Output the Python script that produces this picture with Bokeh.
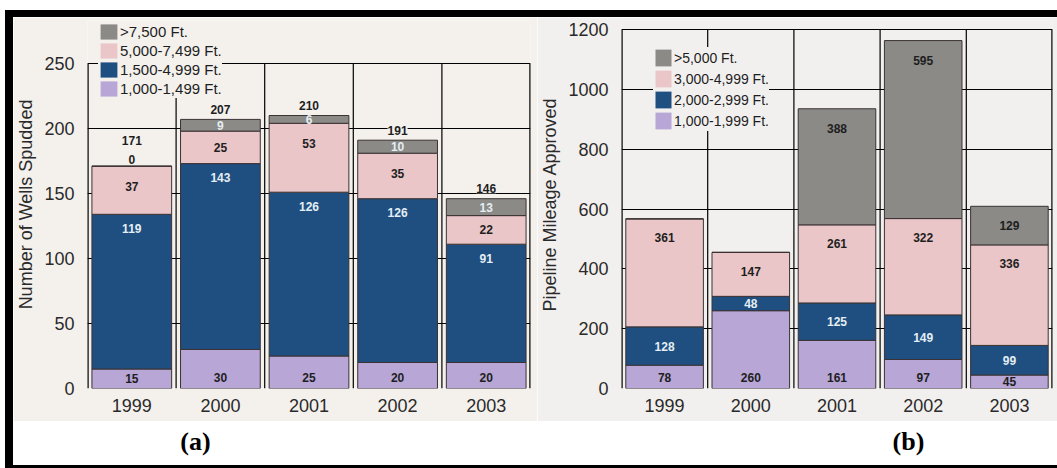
from bokeh.plotting import figure
from bokeh.models import (ColumnDataSource, FactorRange, Range1d, FixedTicker,
                          Legend, LegendItem, LabelSet, Div)
from bokeh.layouts import row, column
from bokeh.embed import file_html
from bokeh.resources import INLINE
from bokeh.core.properties import value

# ---------------- data ----------------
years = ["1999", "2000", "2001", "2002", "2003"]

# (a) Number of wells spudded, by depth
wells_names = ["1,000-1,499 Ft.", "1,500-4,999 Ft.", "5,000-7,499 Ft.", ">7,500 Ft."]
wells_1000_1499 = [15, 30, 25, 20, 20]
wells_1500_4999 = [119, 143, 126, 126, 91]
wells_5000_7499 = [37, 25, 53, 35, 22]
wells_over_7500 = [0, 9, 6, 10, 13]
wells_ticks = [0, 50, 100, 150, 200, 250]

# (b) Pipeline mileage approved, by depth
pipe_names = ["1,000-1,999 Ft.", "2,000-2,999 Ft.", "3,000-4,999 Ft.", ">5,000 Ft."]
pipe_1000_1999 = [78, 260, 161, 97, 45]
pipe_2000_2999 = [128, 48, 125, 149, 99]
pipe_3000_4999 = [361, 147, 261, 322, 336]
pipe_over_5000 = [0, 0, 388, 595, 129]
pipe_ticks = [0, 200, 400, 600, 800, 1000, 1200]

# ---------------- style ----------------
LAV, BLUE, PINK, GRAY = "#b7a6d6", "#1f4f80", "#eac6c8", "#8b8a87"
COLORS = [LAV, BLUE, PINK, GRAY]
OUTLINE = "#3b3234"
DARK = "#1e1e1e"
LIGHT = "#e4eef4"
FONT = "Liberation Sans"


def make_chart(series, names, ticks, ylabel, width, height, mb, top_gap, bg,
               label_cfg, label_colors, legend_loc, legend_font, row_h, sw_w,
               show_totals, show_zero):
    ml, mr, mt, mbot = mb
    ymax = ticks[-1]
    frame_h = height - mt - mbot
    ppu = (frame_h - top_gap) / ymax          # pixels per data unit
    y_end = ymax + top_gap / ppu              # room above for the legend
    p = figure(x_range=FactorRange(factors=years, range_padding=0),
               y_range=Range1d(0, y_end), width=width, height=height,
               title=None, output_backend="svg", toolbar_location=None,
               min_border_left=ml, min_border_right=mr,
               min_border_top=mt, min_border_bottom=mbot,
               background_fill_color=bg, border_fill_color=bg)
    p.outline_line_color = None

    n = len(years)
    # vertical separators between categories and frame edges (up to top tick)
    p.segment(x0=list(range(1, n)), x1=list(range(1, n)), y0=[0] * (n - 1),
              y1=[ymax] * (n - 1), line_color="black", line_width=1.2,
              level="underlay")
    p.segment(x0=[0, n], x1=[0, n], y0=[0, 0], y1=[ymax, ymax],
              line_color="black", line_width=2.4, level="underlay")

    keys = ["s%d" % i for i in range(len(series))]
    data = {"year": years}
    for k, s in zip(keys, series):
        data[k] = s
    src = ColumnDataSource(data)
    p.vbar_stack(keys, x="year", source=src, width=0.9, color=COLORS,
                 line_color=OUTLINE, line_width=1)

    # legend swatches: zero-height proxies without outlines
    proxies = [p.vbar(x=years[:1], top=[0], bottom=[0], width=0.9,
                      fill_color=c, line_color=None) for c in COLORS]
    items = [LegendItem(label=names[i], renderers=[proxies[i]])
             for i in reversed(range(len(names)))]
    legend = Legend(items=items, location=legend_loc, orientation="vertical",
                    spacing=0, padding=0, margin=0, glyph_width=sw_w,
                    glyph_height=row_h, label_height=row_h, label_standoff=1,
                    label_text_font_size=legend_font, label_text_font=FONT,
                    label_text_color=DARK,
                    background_fill_color=bg, background_fill_alpha=1,
                    border_line_color=None)
    p.add_layout(legend)

    # segment labels
    lx, ly, lt, lc = [], [], [], []
    base = [0] * n
    for i, s in enumerate(series):
        anchor, cap = label_cfg[i]
        cap_u = cap / ppu
        for j, v in enumerate(s):
            bottom, top = base[j], base[j] + v
            if v == 0:
                if show_zero:
                    lx.append(years[j]); ly.append(top + 7 / ppu)
                    lt.append(str(v)); lc.append(DARK)
                continue
            if anchor == "bottom":
                y = bottom + min(v / 2, cap_u)
            elif anchor == "top":
                y = top - min(v / 2, cap_u)
            else:
                y = (bottom + top) / 2
            lx.append(years[j]); ly.append(y); lt.append(str(v))
            lc.append(label_colors[i])
        base = [b + v for b, v in zip(base, s)]
    p.text(x="x", y="y", text="t", text_color="c",
           source=ColumnDataSource(dict(x=lx, y=ly, t=lt, c=lc)),
           text_align="center", text_baseline="middle",
           text_font_size="12px", text_font_style="bold", text_font=value(FONT))

    if show_totals:
        ty = []
        for j, tot in enumerate(base):
            extra = 16 / ppu if series[-1][j] == 0 else 0
            ty.append(tot + 10 / ppu + extra)
        tsrc = ColumnDataSource(dict(x=years, y=ty, t=[str(t) for t in base]))
        p.add_layout(LabelSet(x="x", y="y", text="t", source=tsrc,
                              text_align="center", text_baseline="middle",
                              text_font_size="12px", text_font_style="bold",
                              text_font=value(FONT), text_color=DARK,
                              background_fill_color=bg))

    # horizontal grid at ticks; no default vertical grid
    p.ygrid.ticker = FixedTicker(ticks=ticks)
    p.ygrid.grid_line_color = "black"
    p.ygrid.grid_line_width = 1.2
    p.xgrid.grid_line_color = None

    p.yaxis.ticker = FixedTicker(ticks=ticks)
    p.yaxis.axis_label = ylabel
    p.yaxis.axis_label_text_font_style = "normal"
    p.yaxis.axis_label_text_font_size = "18px"
    p.yaxis.axis_label_text_font = FONT
    p.yaxis.axis_label_text_color = "#2a2a2a"
    p.yaxis.axis_label_standoff = 5
    for ax in (p.xaxis, p.yaxis):
        ax.axis_line_color = None
        ax.major_tick_line_color = None
        ax.minor_tick_line_color = None
        ax.major_label_text_font_size = "18px"
        ax.major_label_text_font = FONT
        ax.major_label_text_color = "#2a2a2a"
    p.yaxis.major_label_standoff = 7
    p.xaxis.major_label_standoff = 4
    return p


def caption(txt, width, height, cx, cy):
    c = figure(width=width, height=height, x_range=Range1d(0, width),
               y_range=Range1d(0, height), title=None, output_backend="svg",
               toolbar_location=None, min_border=0, x_axis_type=None,
               y_axis_type=None, outline_line_color=None,
               background_fill_color="white", border_fill_color="white")
    c.text(x=[cx], y=[cy], text=[txt], text_align="center",
           text_baseline="middle", text_font=value("Liberation Serif"),
           text_font_style="bold", text_font_size="26px", text_color="black")
    return c


CH = 404   # chart height (window y 17 -> 421)
CAP = 44   # caption height (421 -> 465)

pa = make_chart([wells_1000_1499, wells_1500_4999, wells_5000_7499, wells_over_7500],
                wells_names, wells_ticks, "Number of Wells Spudded",
                524, CH, (70, 7, 3, 33), 43, "#f4f1ed",
                [("bottom", 11), ("top", 14), ("top", 20), ("center", 0)],
                [DARK, LIGHT, DARK, LIGHT], (11, 290), "15px", 19, 21, True, True)

pb = make_chart([pipe_1000_1999, pipe_2000_2999, pipe_3000_4999, pipe_over_5000],
                pipe_names, pipe_ticks, "Pipeline Mileage Approved",
                520, CH, (81, 5, 3, 33), 9, "#f2f0ee",
                [("bottom", 11), ("center", 0), ("top", 19), ("top", 20)],
                [DARK, LIGHT, DARK, DARK], (32, 257), "14px", 21, 20, False, False)

ca = caption("(a)", 524, CAP, 182, 24)
cb = caption("(b)", 520, CAP, 371, 24)


def band(w, h, color):
    return Div(text="", width=w, height=h, margin=0,
               styles={"background-color": color})


inner = column(band(1052, 7, "black"),
               row(band(8, 448, "black"), column(row(pa, pb), row(ca, cb))),
               band(1052, 3, "black"))
layout = column(band(1057, 10, "white"),
                row(band(5, 458, "white"), inner))

open("out.html", "w").write(file_html(layout, INLINE))
